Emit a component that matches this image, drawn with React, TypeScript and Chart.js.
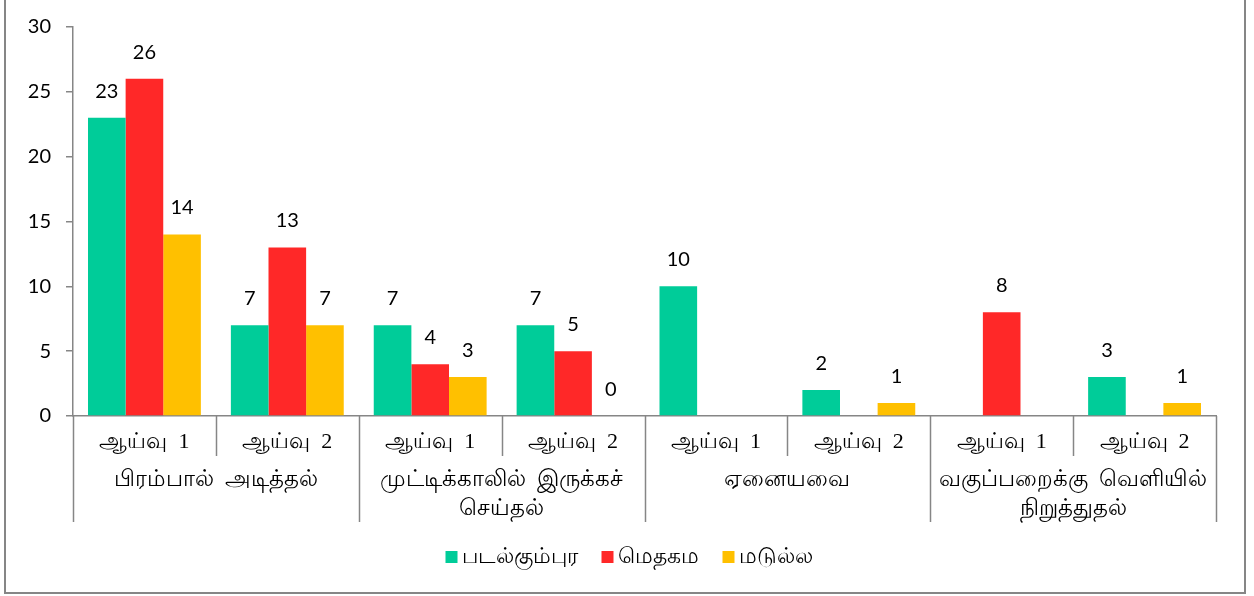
import React, { useEffect, useRef } from "react";
import { Chart, registerables } from "chart.js";

Chart.register(...registerables);

const subLabels = ["ஆய்வு  1", "ஆய்வு  2", "ஆய்வு  1", "ஆய்வு  2", "ஆய்வு  1", "ஆய்வு  2", "ஆய்வு  1", "ஆய்வு  2"];
const groupLabels: string[][] = [
  ["பிரம்பால்  அடித்தல்"],
  ["முட்டிக்காலில்  இருக்கச்", "செய்தல்"],
  ["ஏனையவை"],
  ["வகுப்பறைக்கு  வெளியில்", "நிறுத்துதல்"],
];
const seriesNames = ["படல்கும்புர", "மெதகம", "மடுல்ல"];
const seriesColors = ["#00CC99", "#FF2828", "#FFC000"];
const padalkumbura = [23, 7, 7, 7, 10, 2, null, 3];
const medagama = [26, 13, 4, 5, null, null, 8, null];
const madulla = [14, 7, 3, 0, null, 1, null, 1];
const yTicks = [0, 5, 10, 15, 20, 25, 30];

const AXIS = "#868686";
const NUM_FONT = "20px Lato, 'Open Sans', sans-serif";
const SUB_FONT = "22px 'Liberation Serif', 'DejaVu Serif', serif";
const CAT_FONT = "23px 'Liberation Serif', 'DejaVu Serif', serif";
const LEG_FONT = "22px 'Noto Sans', 'Liberation Sans', sans-serif";

const overlay = {
  id: "overlay",
  afterDraw(chart: any) {
    const ctx = chart.ctx;
    const area = chart.chartArea;
    const x = chart.scales.x;
    const n = subLabels.length;
    const step = (area.right - area.left) / n;
    const base = area.bottom;
    ctx.save();
    // outer border
    ctx.strokeStyle = AXIS;
    ctx.lineWidth = 2;
    ctx.beginPath();
    ctx.moveTo(5, 0);
    ctx.lineTo(5, 593);
    ctx.lineTo(1245, 593);
    ctx.lineTo(1245, 0);
    ctx.stroke();

    // value labels
    ctx.fillStyle = "#000";
    ctx.font = NUM_FONT;
    ctx.textAlign = "center";
    ctx.textBaseline = "alphabetic";
    chart.data.datasets.forEach((ds: any, di: number) => {
      const meta = chart.getDatasetMeta(di);
      meta.data.forEach((bar: any, i: number) => {
        const v = ds.data[i];
        if (v === null || v === undefined) return;
        ctx.fillText(String(v), bar.x, bar.y - 20);
      });
    });

    // category separators
    ctx.strokeStyle = AXIS;
    ctx.lineWidth = 1.5;
    for (let i = 0; i <= n; i++) {
      const px = Math.round(area.left + i * step) + 0.5;
      const isGroup = i % 2 === 0;
      ctx.beginPath();
      ctx.moveTo(px, base);
      ctx.lineTo(px, isGroup ? base + 106 : base + 40);
      ctx.stroke();
    }

    // sub labels
    ctx.fillStyle = "#000";
    ctx.font = SUB_FONT;
    ctx.textBaseline = "middle";
    subLabels.forEach((lab, i) => {
      const cx = x.getPixelForValue(i);
      ctx.fillText(lab, cx, base + 26);
    });
    // group labels
    ctx.font = CAT_FONT;
    groupLabels.forEach((lines, g) => {
      const cx = area.left + (g * 2 + 1) * step;
      lines.forEach((ln, li) => {
        ctx.fillText(ln, cx, base + 64 + li * 29);
      });
    });

    // legend
    ctx.font = LEG_FONT;
    const box = 12;
    const gapBox = 4;
    const gapItem = 24;
    const widths = seriesNames.map((s) => ctx.measureText(s).width);
    const total = widths.reduce((a, w) => a + box + gapBox + w, 0) + gapItem * (seriesNames.length - 1);
    let lx = 629 - total / 2;
    const ly = 557;
    ctx.textAlign = "left";
    seriesNames.forEach((s, i) => {
      ctx.fillStyle = seriesColors[i];
      ctx.fillRect(lx, ly - 6, box, box);
      ctx.fillStyle = "#000";
      ctx.fillText(s, lx + box + gapBox, ly);
      lx += box + gapBox + widths[i] + gapItem;
    });
    ctx.restore();
  },
};

export default function App() {
  const ref = useRef<HTMLCanvasElement | null>(null);
  useEffect(() => {
    const prev = document.body.style.margin;
    document.body.style.margin = "0";
    const chart = new Chart(ref.current as HTMLCanvasElement, {
      type: "bar",
      data: {
        labels: subLabels,
        datasets: [
          { label: seriesNames[0], data: padalkumbura, backgroundColor: seriesColors[0] },
          { label: seriesNames[1], data: medagama, backgroundColor: seriesColors[1] },
          { label: seriesNames[2], data: madulla, backgroundColor: seriesColors[2] },
        ],
      },
      options: {
        responsive: false,
        animation: false,
        layout: { padding: { top: 25, right: 38, bottom: 180, left: 0 } },
        datasets: { bar: { categoryPercentage: 0.79, barPercentage: 1 } },
        plugins: { legend: { display: false }, tooltip: { enabled: false } },
        scales: {
          x: {
            grid: { display: false },
            ticks: { display: false },
            border: { display: true, color: AXIS, width: 1.5 },
            afterFit: (s: any) => {
              s.height = 0;
            },
          },
          y: {
            min: 0,
            max: 30,
            afterBuildTicks: (s: any) => {
              s.ticks = yTicks.map((v) => ({ value: v }));
            },
            grid: { drawOnChartArea: false, drawTicks: true, tickLength: 7, color: AXIS, lineWidth: 1.5 },
            border: { display: true, color: AXIS, width: 1.5 },
            ticks: { color: "#000", font: { family: "Lato, 'Open Sans', sans-serif", size: 20 }, padding: 15 },
            afterFit: (s: any) => {
              s.width = 73;
            },
          },
        },
      },
      plugins: [overlay],
    } as any);
    return () => {
      chart.destroy();
      document.body.style.margin = prev;
    };
  }, []);
  return (
    <div style={{ width: 1254, height: 596, background: "#fff" }}>
      <canvas ref={ref} width={1254} height={596} style={{ display: "block" }} />
    </div>
  );
}
